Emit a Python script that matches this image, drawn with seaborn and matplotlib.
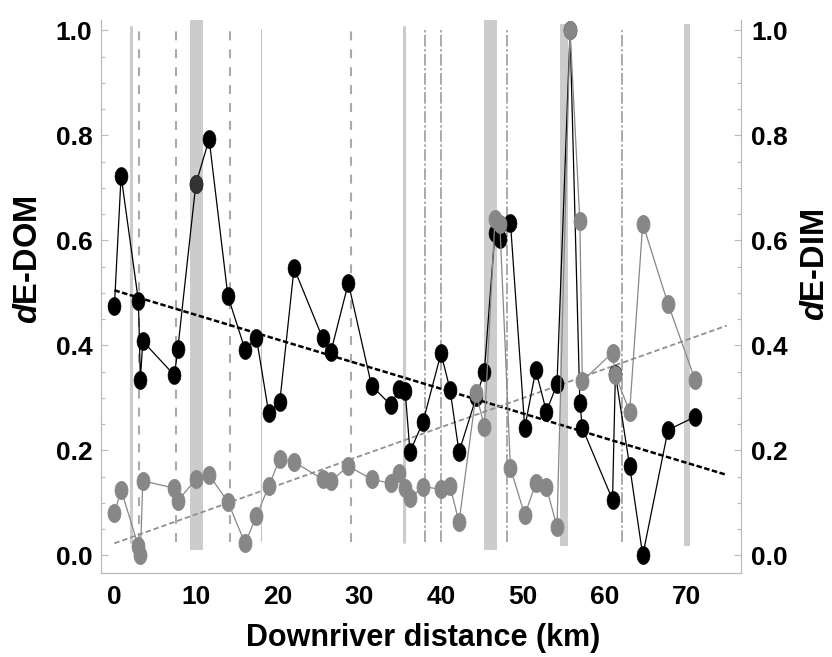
import numpy as np
import pandas as pd
import matplotlib
matplotlib.use("Agg")
import matplotlib.pyplot as plt
from matplotlib.markers import MarkerStyle
from matplotlib.ticker import MultipleLocator, FormatStrFormatter
import seaborn as sns

# sampling sites along the river (km)
distance_km = [0.0, 0.82, 2.94, 3.18, 3.48, 7.35, 7.76, 9.97, 11.6, 13.9,
               16.0, 17.4, 18.9, 20.25, 22.0, 25.5, 26.5, 28.65, 31.5, 33.9,
               34.8, 35.6, 36.2, 37.8, 40.0, 41.1, 42.2, 44.3, 45.3, 46.6,
               47.2, 48.5, 50.25, 51.6, 52.9, 54.2, 55.8, 57.0, 57.3, 61.0,
               61.35, 63.1, 64.7, 67.8, 71.1]

de_dom = [0.475, 0.723, 0.485, 0.335, 0.408, 0.343, 0.393, 0.707, 0.793, 0.494,
          0.392, 0.414, 0.271, 0.292, 0.547, 0.414, 0.387, 0.519, 0.323, 0.286,
          0.317, 0.314, 0.197, 0.255, 0.385, 0.316, 0.197, 0.301, 0.350, 0.615,
          0.603, 0.634, 0.243, 0.353, 0.274, 0.326, 1.0, 0.291, 0.243, 0.106,
          0.345, 0.170, 0.0, 0.239, 0.264]

de_dim = [0.081, 0.125, 0.017, 0.0, 0.142, 0.128, 0.104, 0.145, 0.153, 0.102,
          0.023, 0.075, 0.132, 0.184, 0.178, 0.145, 0.142, 0.170, 0.145, 0.137,
          0.156, 0.128, 0.109, 0.131, 0.126, 0.132, 0.063, 0.309, 0.245, 0.640,
          0.631, 0.166, 0.077, 0.137, 0.130, 0.054, 1.0, 0.637, 0.332, 0.386,
          0.343, 0.274, 0.632, 0.479, 0.335]

# site drawn in dark grey in the DOM series
dom_dark_sites = [9.97]

# trend lines (intercept, slope per km) and their span
dom_trend = (0.505, -0.00469)
dim_trend = (0.023, 0.00553)
trend_span_km = [0, 75]

# river features marked with vertical lines/bands (km)
wide_bands = [(9.2, 10.9), (45.2, 46.9)]
narrow_bands = [(54.6, 55.6), (69.7, 70.5)]
solid_marks = [2.0, 35.45]
thin_marks = [18.0]
dashed_marks = [3.0, 7.5, 14.2, 29.0]
dashdot_marks = [38.0, 40.0, 48.05, 62.1]

sns.set_theme(style="white")
plt.rcParams["font.family"] = ["Liberation Sans", "DejaVu Sans"]
plt.rcParams["font.weight"] = "bold"
plt.rcParams["text.color"] = "black"
plt.rcParams["axes.labelcolor"] = "black"
plt.rcParams["mathtext.fontset"] = "custom"
plt.rcParams["mathtext.it"] = "Liberation Sans:italic:bold"
plt.rcParams["mathtext.rm"] = "Liberation Sans:bold"

sites = pd.DataFrame({"distance": distance_km, "dE_DOM": de_dom, "dE_DIM": de_dim})
trend = pd.DataFrame({"distance": trend_span_km})
trend["dom"] = dom_trend[0] + dom_trend[1] * trend["distance"]
trend["dim"] = dim_trend[0] + dim_trend[1] * trend["distance"]

fig = plt.figure(figsize=(8.32, 6.57), dpi=100)
ax = fig.add_axes([0.1218, 0.1283, 0.7685, 0.8413])
ax.set_xlim(-1.6, 76.7)
ax.set_ylim(-0.033, 1.02)

# vertical features
band_col = "#cccccc"
for x0, x1 in wide_bands:
    ax.axvspan(x0, x1, ymin=0.041, ymax=1.0, color=band_col, lw=0, zorder=0)
for x0, x1 in narrow_bands:
    ax.axvspan(x0, x1, ymin=0.049, ymax=0.992, color=band_col, lw=0, zorder=0)
for x in solid_marks:
    ax.axvline(x, ymin=0.056, ymax=0.988, color=band_col, lw=2.2, zorder=0)
for x in thin_marks:
    ax.axvline(x, ymin=0.057, ymax=0.984, color="#c4c4c4", lw=0.8, zorder=0)
for x in dashed_marks:
    ax.axvline(x, ymin=0.056, ymax=0.986, color="#aaaaaa", lw=1.5,
               dashes=(4.3, 4.3), zorder=0)
for x in dashdot_marks:
    ax.axvline(x, ymin=0.056, ymax=0.986, color="#aaaaaa", lw=1.4,
               dashes=(6.0, 1.3, 1.2, 1.3), zorder=0)

# elliptical marker (taller than wide)
t = np.linspace(0, 2 * np.pi, 64)
ellipse = MarkerStyle(np.column_stack([0.72 * np.cos(t), np.sin(t)]))

gray = "#878787"

sns.lineplot(data=trend, x="distance", y="dom", color="black", lw=1.8,
             dashes=(2.2, 1.0), ax=ax, zorder=2)
sns.lineplot(data=trend, x="distance", y="dim", color="#909090", lw=1.3,
             dashes=(3.0, 1.6), ax=ax, zorder=2)

sns.lineplot(data=sites, x="distance", y="dE_DOM", color="black", lw=0.9,
             estimator=None, ax=ax, zorder=3)
sns.scatterplot(data=sites, x="distance", y="dE_DOM", marker=ellipse, s=168,
                color="black", edgecolor="black", linewidth=0.4, ax=ax, zorder=4)
dark = sites[sites["distance"].isin(dom_dark_sites)]
sns.scatterplot(data=dark, x="distance", y="dE_DOM", marker=ellipse, s=168,
                color="#333333", edgecolor="#333333", linewidth=0.4, ax=ax, zorder=4)

sns.lineplot(data=sites, x="distance", y="dE_DIM", color=gray, lw=0.9,
             estimator=None, ax=ax, zorder=5)
sns.scatterplot(data=sites, x="distance", y="dE_DIM", marker=ellipse, s=168,
                color=gray, edgecolor=gray, linewidth=0.6, ax=ax, zorder=6)

# axes styling
spine_col = "#bbbbbb"
ax2 = ax.twinx()
ax2.set_ylim(ax.get_ylim())
for a in (ax, ax2):
    a.yaxis.set_major_locator(MultipleLocator(0.2))
    a.yaxis.set_minor_locator(MultipleLocator(0.05))
    a.yaxis.set_major_formatter(FormatStrFormatter("%.1f"))
    a.tick_params(which="both", direction="in", color=spine_col, width=0.8,
                  labelsize=19, labelcolor="black")
    a.tick_params(which="major", length=5)
    a.tick_params(which="minor", length=3)
    for s in a.spines.values():
        s.set_color(spine_col)
        s.set_linewidth(0.9)
    a.spines["top"].set_visible(False)
    a.grid(False)
ax.spines["right"].set_visible(False)
ax2.spines["left"].set_visible(False)
ax2.spines["bottom"].set_visible(False)

ax.xaxis.set_major_locator(MultipleLocator(10))
ax.xaxis.set_minor_locator(MultipleLocator(2))
ax.tick_params(axis="x", which="major", length=6, pad=9)
ax.tick_params(axis="y", which="both", left=True, pad=6.5)
ax2.tick_params(axis="y", which="both", right=True, pad=7.5)

ax.set_xlabel("Downriver distance (km)", fontsize=22, fontweight="bold")
ax.set_ylabel(r"$\mathit{d}$E-DOM", fontsize=23.5, fontweight="bold")
ax2.set_ylabel(r"$\mathit{d}$E-DIM", fontsize=23.5, fontweight="bold")
ax.xaxis.set_label_coords(0.504, -0.091)
ax.yaxis.set_label_coords(-0.090, 0.566)
ax2.yaxis.set_label_coords(1.092, 0.557)

fig.savefig("out.png", dpi=100)
